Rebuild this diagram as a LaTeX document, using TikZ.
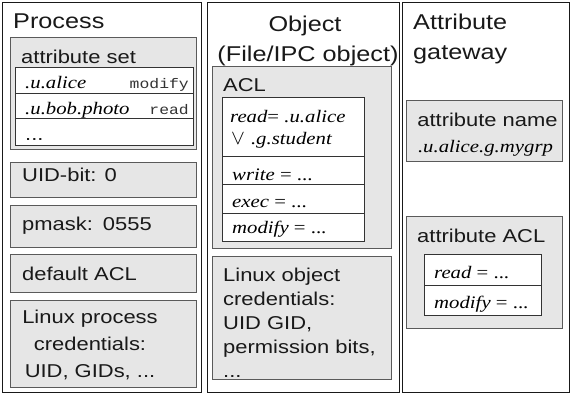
\documentclass[tikz,border=0pt]{standalone}
\usepackage{fontspec}
\setmainfont{Liberation Sans}[FakeStretch=1.18]
\newfontfamily\serifface{Liberation Serif}[FakeStretch=1.18]
\newfontfamily\monoface{Liberation Mono}[FakeStretch=1.18]
\definecolor{boxfill}{HTML}{E6E6E6}
\definecolor{boxedge}{HTML}{5A5A5A}
\definecolor{tabedge}{HTML}{333333}
% rectangle node from its corners: name, style, x1, y1, x2, y2
\newcommand\rectnode[6]{\node[#2, anchor=north west, minimum width={(#5)-(#3)}, minimum height={(#6)-(#4)}] (#1) at (#3,#4) {};}
\tikzset{
  column/.style={draw=black!90, line width=1pt, fill=white, inner sep=0, outer sep=0},
  graybox/.style={draw=boxedge, line width=1pt, fill=boxfill, inner sep=0, outer sep=0},
  tabrow/.style={draw=tabedge, line width=1pt, fill=white, inner sep=0, outer sep=0},
  title/.style={font=\fontsize{21.4}{30}\selectfont, inner sep=0, text=black!90},
  body/.style={font=\fontsize{18.6}{24}\selectfont, inner sep=0, text=black!90},
  itx/.style={font=\serifface\itshape\fontsize{17.6}{20}\selectfont, inner sep=0},
  mono/.style={font=\monoface\fontsize{13.9}{16}\selectfont, inner sep=0, text=black!80},
}
\begin{document}
\begin{tikzpicture}[x=1pt, y=-1pt]
\useasboundingbox (0,0) rectangle (571,396);

% three columns
\rectnode{proccol}{column}{2.7}{3}{201.5}{392}
\rectnode{objcol}{column}{207}{3}{399}{392}
\rectnode{gwcol}{column}{402}{3}{569}{392}

% ---------- Process ----------
\node[title, anchor=base west] (proctitle) at (13,29) {Process};

\rectnode{attrset}{graybox}{10.5}{38}{196.5}{149}
\node[body, anchor=base west] (attrsettitle) at (21,64) {attribute set};
\rectnode{asrowa}{tabrow}{15}{68}{193}{94}
\rectnode{asrowb}{tabrow}{15}{94}{193}{119}
\rectnode{asrowc}{tabrow}{15}{119}{193}{145}
\node[itx, anchor=base west] (asnamea) at (25,89) {.u.alice};
\node[mono, anchor=base east] (asperma) at (189,89) {modify};
\node[itx, anchor=base west] (asnameb) at (25,114) {.u.bob.photo};
\node[mono, anchor=base east] (aspermb) at (189,114) {read};
\node[body, anchor=base west] (asmore) at (25,140) {...};

\rectnode{uidbit}{graybox}{10.5}{162}{196.5}{197}
\node[body, anchor=base west] (uidtext) at (22,181) {UID-bit: 0};

\rectnode{pmask}{graybox}{10.5}{205}{196.5}{247}
\node[body, anchor=base west] (pmasktext) at (22,230) {pmask:\hspace{10pt}0555};

\rectnode{defacl}{graybox}{10.5}{254}{196.5}{292}
\node[body, anchor=base west] (defacltext) at (22,280) {default ACL};

\rectnode{proccred}{graybox}{10.5}{300}{196.5}{387}
\node[body, anchor=base] (pcreda) at (90,323) {Linux process};
\node[body, anchor=base] (pcredb) at (90,350) {credentials:};
\node[body, anchor=base] (pcredc) at (90,377) {UID, GIDs, ...};

% ---------- Object ----------
\node[title, anchor=base] (objtitlea) at (305,32) {Object};
\node[title, anchor=base] (objtitleb) at (308,62) {(File/IPC object)};

\rectnode{acl}{graybox}{212}{67}{391}{248}
\node[body, anchor=base west] (acltitle) at (223,92) {ACL};
\rectnode{aclread}{tabrow}{222}{98}{364}{156}
\rectnode{aclwrite}{tabrow}{222}{156}{364}{184}
\rectnode{aclexec}{tabrow}{222}{184}{364}{213}
\rectnode{aclmod}{tabrow}{222}{213}{364}{241}
\node[itx, anchor=base west] (readtexta) at (230,122) {read{\upshape=} .u.alice};
\node[itx, anchor=base west] (readtextb) at (231,145) {{\fontsize{22}{22}\selectfont$\vee$}\hspace{6pt}.g.student};
\node[itx, anchor=base west] (writetext) at (232,180) {write {\upshape= ...}};
\node[itx, anchor=base west] (exectext) at (232,207) {exec {\upshape= ...}};
\node[itx, anchor=base west] (modtext) at (232,233) {modify {\upshape= ...}};

\rectnode{objcred}{graybox}{212}{256}{391}{379}
\node[body, anchor=base west] (ocreda) at (223,281) {Linux object};
\node[body, anchor=base west] (ocredb) at (223,305) {credentials:};
\node[body, anchor=base west] (ocredc) at (223,329) {UID GID,};
\node[body, anchor=base west] (ocredd) at (223,353) {permission bits,};
\node[body, anchor=base west] (ocrede) at (223,377) {...};

% ---------- Attribute gateway ----------
\node[title, anchor=base west] (gwtitlea) at (413,30) {Attribute};
\node[title, anchor=base west] (gwtitleb) at (413,60) {gateway};

\rectnode{attrname}{graybox}{406}{101}{562}{161}
\node[body, anchor=base] (attrnametitle) at (487.5,126) {attribute name};
\node[itx, anchor=base] (attrnameval) at (485.5,152) {.u.alice.g.mygrp};

\rectnode{attracl}{graybox}{406}{216}{562}{328}
\node[body, anchor=base west] (attracltitle) at (417,242) {attribute ACL};
\rectnode{gwread}{tabrow}{424}{254}{541}{285}
\rectnode{gwmod}{tabrow}{424}{285}{541}{315}
\node[itx, anchor=base west] (gwreadtext) at (434,278) {read {\upshape= ...}};
\node[itx, anchor=base west] (gwmodtext) at (434,308) {modify {\upshape= ...}};
\end{tikzpicture}
\end{document}
